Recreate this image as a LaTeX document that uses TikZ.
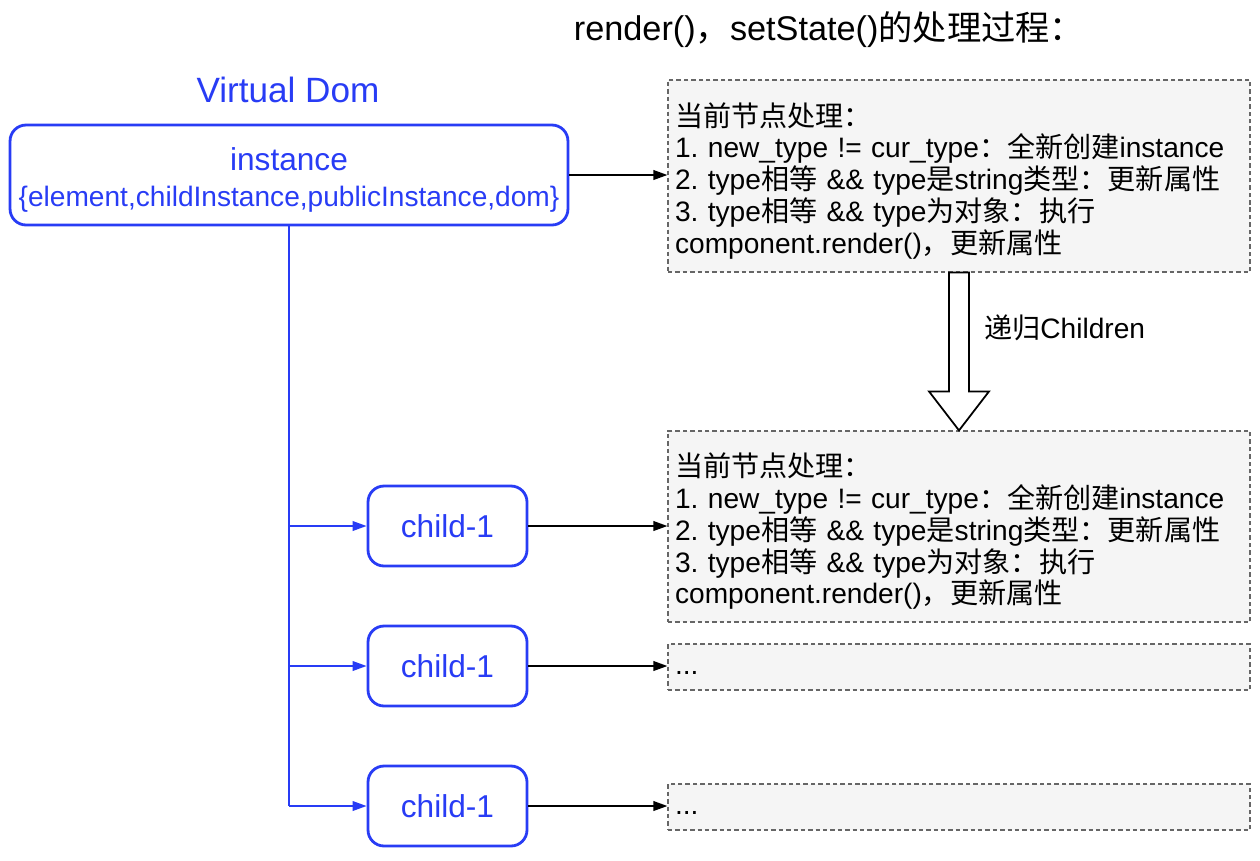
\documentclass[tikz,border=0pt]{standalone}
\usepackage{fontspec}
\setmainfont{Liberation Sans}
\newfontfamily\cjk{Noto Sans CJK SC}
\usetikzlibrary{arrows.meta,calc}
\frenchspacing

\definecolor{vblue}{RGB}{40,60,245}
\definecolor{notefill}{RGB}{245,245,245}
\definecolor{noteline}{RGB}{102,102,102}
\newcommand\zh[1]{{\cjk #1}}

\tikzset{
  vdom/.style={draw=vblue, text=vblue, line width=1.6pt, rounded corners=0.32cm, align=center},
  notebox/.style={draw=noteline, fill=notefill, dash pattern=on 2.5pt off 1.7pt, line width=0.7pt,
    align=left, text width=11.36cm, inner xsep=0.14cm, minimum width=11.64cm,
    font=\fontsize{16}{18.1}\selectfont},
  link/.style={-{Triangle[length=8pt,width=5.5pt]}, line width=1pt},
  branch/.style={link, draw=vblue},
}

\begin{document}
\begin{tikzpicture}[x=0.02cm, y=-0.02cm]
    \useasboundingbox (0,0) rectangle (1260,860);

    % titles
    \node[font=\fontsize{19.5}{22}\selectfont] (title) at (829,30) {render()\zh{，}setState()\zh{的处理过程：}};
    \node[text=vblue, font=\fontsize{20}{24}\selectfont] (vtitle) at (288,90) {Virtual Dom};

    % virtual dom tree
    \node[vdom, minimum width=11.16cm, minimum height=2cm, font=\fontsize{16}{20.4}\selectfont] (inst) at (289,175)
        {\rule{0pt}{19pt}{\fontsize{18}{20.4}\selectfont instance}\\ \{element,childInstance,publicInstance,dom\}};
    \foreach \i/\y in {1/526,2/666,3/806}
        \node[vdom, minimum width=3.18cm, minimum height=1.6cm, font=\fontsize{18}{20}\selectfont] (c\i) at (447.5,\y) {child-1};

    % processing steps
    \node[notebox, minimum height=3.84cm] (n0) at (959,176)
        {\rule{0pt}{19pt}\zh{当前节点处理：}\\
         1. new\_type != cur\_type\zh{：全新创建}instance\\
         2. type\zh{相等} \&\& type\zh{是}string\zh{类型：更新属性}\\
         3. type\zh{相等} \&\& type\zh{为对象：执行}\\
         component.render()\zh{，更新属性}};
    \node[notebox, minimum height=3.82cm] (n1) at (959,526.5)
        {\rule{0pt}{19pt}\zh{当前节点处理：}\\
         1. new\_type != cur\_type\zh{：全新创建}instance\\
         2. type\zh{相等} \&\& type\zh{是}string\zh{类型：更新属性}\\
         3. type\zh{相等} \&\& type\zh{为对象：执行}\\
         component.render()\zh{，更新属性}};
    \node[notebox, minimum height=0.92cm] (n2) at (959,667) {\rule{0pt}{9pt}...};
    \node[notebox, minimum height=0.92cm] (n3) at (959,807) {\rule{0pt}{9pt}...};

    % connectors
    \draw[link] (inst.east) -- (inst.east -| n0.west);
    \foreach \i/\nt in {1/n1,2/n2,3/n3}
        \draw[link] (c\i.east) -- (c\i.east -| \nt.west);
    \draw[vblue, line width=1pt] (inst.south) -- (inst.south |- c3.west);
    \foreach \i in {1,2,3}
        \draw[branch] (inst.south |- c\i.west) -- (c\i.west);

    % recursion arrow
    \draw[line width=1pt, fill=white] ($(n0.south)+(-10,0)$) -- ($(n1.north)+(-10,-39)$)
        -- ($(n1.north)+(-30,-39)$) -- (n1.north) -- ($(n1.north)+(30,-39)$)
        -- ($(n1.north)+(10,-39)$) -- ($(n0.south)+(10,0)$) -- cycle;
    \node[anchor=west, font=\fontsize{16}{18}\selectfont] (rec) at (978,328) {\zh{递归}Children};
\end{tikzpicture}
\end{document}
